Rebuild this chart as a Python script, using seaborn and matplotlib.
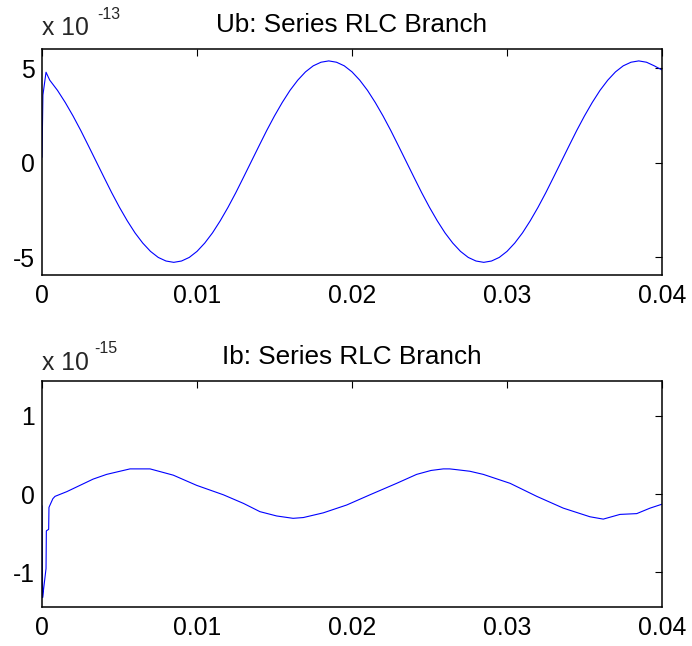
import matplotlib
matplotlib.use("Agg")
import matplotlib.pyplot as plt
import seaborn as sns
import pandas as pd

# ---------------- data ----------------
ub_title = "Ub: Series RLC Branch"
ib_title = "Ib: Series RLC Branch"
x_ticks = [0, 0.01, 0.02, 0.03, 0.04]
x_tick_labels = ["0", "0.01", "0.02", "0.03", "0.04"]
ub_ticks = [-5, 0, 5]
ib_ticks = [-1, 0, 1]

# Ub (units of 1e-13)
ub_t = [0.0, 0.00006, 0.00026,
        0.0005, 0.0010, 0.0015, 0.0020, 0.0025, 0.0030, 0.0035, 0.0040, 0.0045, 0.0050,
        0.0055, 0.0060, 0.0065, 0.0070, 0.0075, 0.0080, 0.0085, 0.0090, 0.0095, 0.0100,
        0.0105, 0.0110, 0.0115, 0.0120, 0.0125, 0.0130, 0.0135, 0.0140, 0.0145, 0.0150,
        0.0155, 0.0160, 0.0165, 0.0170, 0.0175, 0.0180, 0.0185, 0.0190, 0.0195, 0.0200,
        0.0205, 0.0210, 0.0215, 0.0220, 0.0225, 0.0230, 0.0235, 0.0240, 0.0245, 0.0250,
        0.0255, 0.0260, 0.0265, 0.0270, 0.0275, 0.0280, 0.0285, 0.0290, 0.0295, 0.0300,
        0.0305, 0.0310, 0.0315, 0.0320, 0.0325, 0.0330, 0.0335, 0.0340, 0.0345, 0.0350,
        0.0355, 0.0360, 0.0365, 0.0370, 0.0375, 0.0380, 0.0385, 0.0390, 0.0395, 0.0400]
ub_v = [0.3, 3.6, 4.8,
        4.38, 3.84, 3.20, 2.49, 1.72, 0.90, 0.07, -0.76, -1.58, -2.35,
        -3.06, -3.70, -4.24, -4.68, -5.00, -5.19, -5.26, -5.19, -5.00, -4.68,
        -4.24, -3.70, -3.06, -2.35, -1.58, -0.76, 0.07, 0.90, 1.72, 2.49,
        3.20, 3.84, 4.38, 4.82, 5.14, 5.33, 5.40, 5.33, 5.14, 4.82,
        4.38, 3.84, 3.20, 2.49, 1.72, 0.90, 0.07, -0.76, -1.58, -2.35,
        -3.06, -3.70, -4.24, -4.68, -5.00, -5.19, -5.26, -5.19, -5.00, -4.68,
        -4.24, -3.70, -3.06, -2.35, -1.58, -0.76, 0.07, 0.90, 1.72, 2.49,
        3.20, 3.84, 4.38, 4.82, 5.14, 5.33, 5.40, 5.33, 5.14, 4.92]

# Ib (units of 1e-15)
ib_t = [0.0, 0.00004, 0.00008, 0.00026, 0.00028, 0.00043, 0.00045, 0.0007,
        0.00084, 0.0016, 0.00245, 0.0033, 0.00417, 0.00503, 0.00568, 0.00697,
        0.00847, 0.00998, 0.0117, 0.0130, 0.01406, 0.01514, 0.0162, 0.01686,
        0.01815, 0.01966, 0.02116, 0.02288, 0.02417, 0.02510, 0.02589, 0.0263,
        0.02675, 0.02760, 0.02847, 0.0302, 0.03192, 0.03363, 0.03535, 0.03621,
        0.03729, 0.03837, 0.03923, 0.0400]
ib_v = [-0.15, -1.32, -1.25, -0.95, -0.47, -0.45, -0.17, -0.06,
        -0.03, 0.03, 0.11, 0.19, 0.25, 0.29, 0.32, 0.32,
        0.24, 0.11, -0.01, -0.12, -0.225, -0.28, -0.31, -0.30,
        -0.24, -0.14, -0.01, 0.136, 0.25, 0.30, 0.32, 0.32,
        0.31, 0.29, 0.25, 0.136, -0.03, -0.18, -0.29, -0.32,
        -0.26, -0.25, -0.18, -0.13]

ub_df = pd.DataFrame({"t": ub_t, "v": ub_v})
ib_df = pd.DataFrame({"t": ib_t, "v": ib_v})

# ---------------- style ----------------
sns.set_style("white")
plt.rcParams["font.family"] = ["Liberation Sans", "DejaVu Sans"]

W, H = 692, 646
fig = plt.figure(figsize=(W / 100, H / 100), dpi=100)

def px_axes(left, top, right, bottom):
    return fig.add_axes([left / W, 1 - bottom / H, (right - left) / W, (bottom - top) / H])

ax1 = px_axes(42, 49, 662, 275)
ax2 = px_axes(42, 381, 662, 607)

FS = 17.8
TFS = 18.8

def style(ax, ylim, yticks, title):
    ax.set_xlim(0, 0.04)
    ax.set_ylim(*ylim)
    ax.set_xticks(x_ticks)
    ax.set_xticklabels(x_tick_labels)
    ax.set_yticks(yticks)
    ax.set_yticklabels([str(v) for v in yticks])
    ax.tick_params(direction="in", top=True, right=True, length=5, width=0.8,
                   labelsize=FS, colors="black")
    ax.tick_params(axis="x", pad=6.5)
    ax.tick_params(axis="y", pad=5)
    for s in ax.spines.values():
        s.set_visible(True)
        s.set_color("black")
        s.set_linewidth(1.1)
    ax.set_xlabel("")
    ax.set_ylabel("")
    ax.set_title(title, fontsize=TFS, pad=12.5, color="black")

sns.lineplot(data=ub_df, x="t", y="v", ax=ax1, color="blue", linewidth=0.8,
             estimator=None, sort=False)
sns.lineplot(data=ib_df, x="t", y="v", ax=ax2, color="blue", linewidth=0.8,
             estimator=None, sort=False)

style(ax1, (-5.93, 6.03), ub_ticks, ub_title)
style(ax2, (-1.44, 1.44), ib_ticks, ib_title)

# MATLAB-style exponent labels
def exp_label(x_px, base_px, exp_x_px, exp_base_px, exp_text):
    fig.text(x_px / W, 1 - base_px / H, "x 10", fontsize=FS, ha="left", va="baseline")
    fig.text(exp_x_px / W, 1 - exp_base_px / H, exp_text, fontsize=11.5, ha="left", va="baseline")

exp_label(42, 35, 97, 19, "-13")
exp_label(42, 370, 94, 353, "-15")

fig.savefig("out.png", dpi=100)
